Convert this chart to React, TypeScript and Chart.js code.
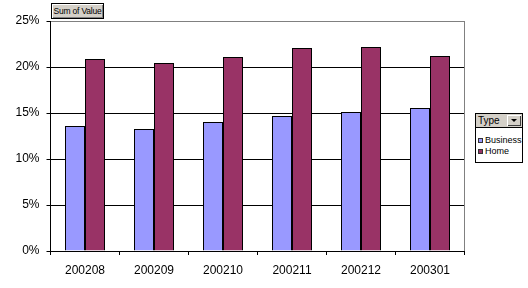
import React, { useEffect, useRef } from "react";
import { Chart, registerables } from "chart.js";

Chart.register(...registerables);

const categories = ["200208", "200209", "200210", "200211", "200212", "200301"];
const business = [0.1359, 0.1326, 0.1402, 0.1467, 0.1511, 0.1554];
const home = [0.2087, 0.2043, 0.2109, 0.2207, 0.2217, 0.2120];
const seriesNames = ["Business", "Home"];
const seriesColors = ["#9999FF", "#993366"];

const FONT = "'Liberation Sans', Arial, sans-serif";

export default function App() {
  const ref = useRef<HTMLCanvasElement | null>(null);

  useEffect(() => {
    if (!ref.current) return;
    const frame = {
      id: "frame",
      afterDraw(chart: any) {
        const { ctx, chartArea } = chart;
        ctx.save();
        ctx.strokeStyle = "#808080";
        ctx.lineWidth = 1;
        ctx.beginPath();
        const x = Math.floor(chartArea.right) + 0.5;
        ctx.moveTo(x, Math.round(chartArea.top));
        ctx.lineTo(x, Math.round(chartArea.bottom));
        ctx.stroke();
        ctx.restore();
      },
    };
    const common = {
      borderColor: "#000",
      borderWidth: 1,
      categoryPercentage: 40 / 69,
      barPercentage: 1,
      inflateAmount: 0,
    };
    const chart = new Chart(ref.current, {
      type: "bar",
      data: {
        labels: categories,
        datasets: [
          { label: seriesNames[0], data: business, backgroundColor: seriesColors[0], ...common },
          { label: seriesNames[1], data: home, backgroundColor: seriesColors[1], ...common },
        ],
      },
      options: {
        responsive: false,
        animation: false,
        layout: { padding: { top: 21, right: 63.5, left: 0, bottom: 0 } },
        plugins: { legend: { display: false }, tooltip: { enabled: false } },
        scales: {
          x: {
            grid: {
              drawOnChartArea: false,
              drawTicks: true,
              tickLength: 4,
              color: "#000",
              offset: true,
            },
            border: { color: "#000", width: 1 },
            ticks: {
              color: "#000",
              font: { family: FONT, size: 12 },
              padding: 8,
              maxRotation: 0,
              autoSkip: false,
            },
            afterFit: (s: any) => {
              s.height = 37;
            },
          },
          y: {
            min: 0,
            max: 0.25,
            grid: {
              color: (c: any) => (c.tick && c.tick.value >= 0.249 ? "#808080" : "#000"),
              tickColor: "#000",
              tickLength: 4,
              lineWidth: 1,
            },
            border: { color: "#000", width: 1 },
            ticks: {
              stepSize: 0.05,
              color: "#000",
              font: { family: FONT, size: 12 },
              padding: 7,
              callback: (v: any) => Math.round(Number(v) * 100) + "%",
            },
            afterFit: (s: any) => {
              s.width = 50.5;
            },
          },
        },
      },
      plugins: [frame],
    });
    return () => chart.destroy();
  }, []);

  const btn: React.CSSProperties = {
    position: "absolute",
    background: "#D4D0C8",
    boxSizing: "border-box",
    fontFamily: FONT,
    color: "#000",
  };

  return (
    <div style={{ position: "absolute", left: 0, top: 0, width: 528, height: 288, background: "#fff" }}>
      <canvas ref={ref} width={528} height={288} style={{ display: "block" }} />
      <div
        style={{
          ...btn,
          left: 51,
          top: 3,
          width: 53,
          height: 16,
          border: "1px solid #000",
          boxShadow: "inset 1px 1px 0 #fff, inset -1px -1px 0 #808080",
          fontSize: 8.5,
          lineHeight: "14px",
          textAlign: "center",
          whiteSpace: "nowrap",
          letterSpacing: -0.2,
        }}
      >
        Sum of Value
      </div>
      <div
        style={{
          position: "absolute",
          left: 475,
          top: 113,
          width: 48,
          height: 50,
          border: "1px solid #000",
          boxSizing: "border-box",
          background: "#fff",
          fontFamily: FONT,
          fontSize: 9,
          color: "#000",
        }}
      >
        <div
          style={{
            position: "absolute",
            left: 0,
            top: 0,
            width: 46,
            height: 14,
            background: "#D4D0C8",
            borderBottom: "1px solid #000",
            boxSizing: "border-box",
          }}
        >
          <span style={{ position: "absolute", left: 2, top: 1, fontSize: 10 }}>Type</span>
          <div
            style={{
              position: "absolute",
              right: 1,
              top: 1,
              width: 14,
              height: 11,
              background: "#D4D0C8",
              boxShadow: "inset 1px 1px 0 #fff, inset -1px -1px 0 #404040",
            }}
          >
            <div
              style={{
                position: "absolute",
                left: 4,
                top: 4,
                width: 0,
                height: 0,
                borderLeft: "3px solid transparent",
                borderRight: "3px solid transparent",
                borderTop: "3px solid #000",
              }}
            />
          </div>
        </div>
        {seriesNames.map((n, i) => (
          <div key={n} style={{ position: "absolute", left: 2, top: 21 + i * 11, height: 10, whiteSpace: "nowrap" }}>
            <span
              style={{
                position: "absolute",
                left: 0,
                top: 3,
                width: 5,
                height: 5,
                background: seriesColors[i],
                border: "1px solid #333",
                boxSizing: "border-box",
              }}
            />
            <span style={{ position: "absolute", left: 7, top: 0, lineHeight: "10px" }}>{n}</span>
          </div>
        ))}
      </div>
    </div>
  );
}
